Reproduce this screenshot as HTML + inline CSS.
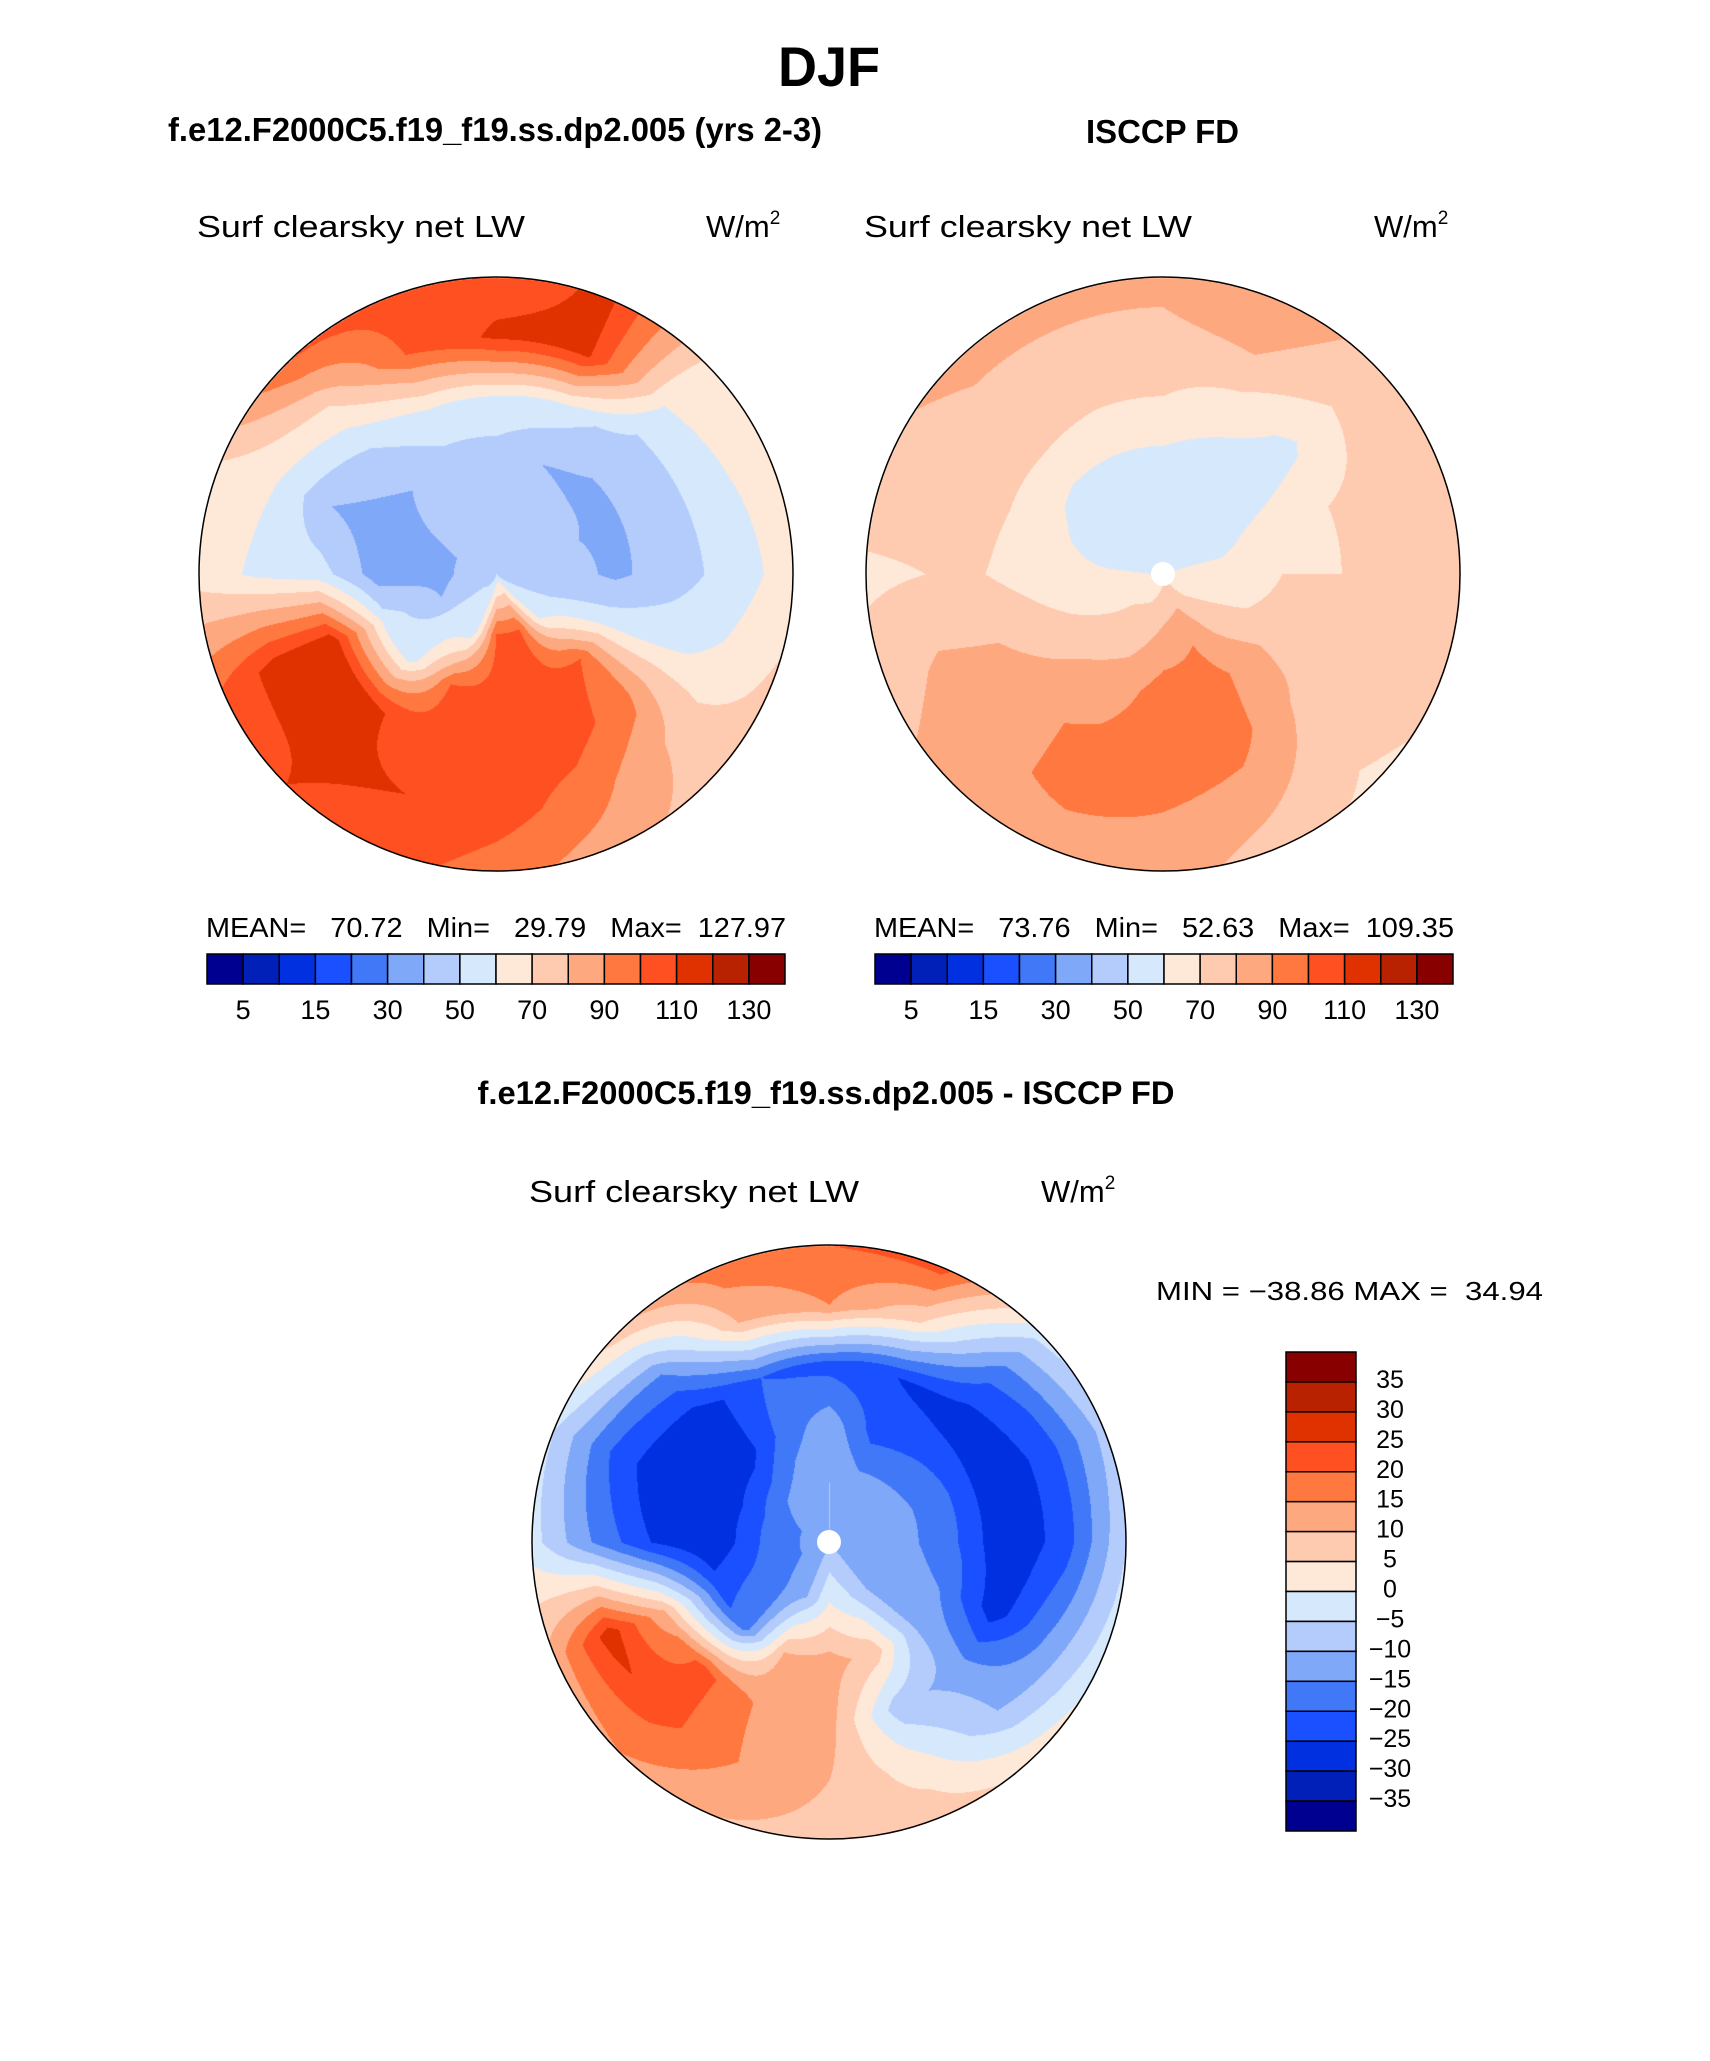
<!DOCTYPE html>
<html><head><meta charset="utf-8">
<style>
html,body{margin:0;padding:0;background:#fff;}
#wrap{position:relative;width:1710px;height:2061px;overflow:hidden;}
canvas,svg{position:absolute;left:0;top:0;}
text{font-family:"Liberation Sans",sans-serif;fill:#000;}
</style></head>
<body>
<div id="wrap">
<canvas id="cv" width="1710" height="2061"></canvas>
<svg id="sv" width="1710" height="2061" xmlns="http://www.w3.org/2000/svg">
  <text x="829" y="86" font-size="56" font-weight="bold" text-anchor="middle" textLength="102" lengthAdjust="spacingAndGlyphs">DJF</text>
  <text x="168" y="141" font-size="33" font-weight="bold" textLength="654" lengthAdjust="spacingAndGlyphs">f.e12.F2000C5.f19_f19.ss.dp2.005 (yrs 2-3)</text>
  <text x="1086" y="143" font-size="33" font-weight="bold" textLength="153" lengthAdjust="spacingAndGlyphs">ISCCP FD</text>

  <text x="197" y="237" font-size="31" textLength="328" lengthAdjust="spacingAndGlyphs">Surf clearsky net LW</text>
  <text x="706" y="237" font-size="31">W/m<tspan font-size="19" dy="-13">2</tspan></text>
  <text x="864" y="237" font-size="31" textLength="328" lengthAdjust="spacingAndGlyphs">Surf clearsky net LW</text>
  <text x="1374" y="237" font-size="31">W/m<tspan font-size="19" dy="-13">2</tspan></text>

  <text x="206" y="937" font-size="28" textLength="580" lengthAdjust="spacingAndGlyphs" xml:space="preserve">MEAN=   70.72   Min=   29.79   Max=  127.97</text>
  <text x="874" y="937" font-size="28" textLength="580" lengthAdjust="spacingAndGlyphs" xml:space="preserve">MEAN=   73.76   Min=   52.63   Max=  109.35</text>

  <text x="826" y="1104" font-size="32" font-weight="bold" text-anchor="middle" textLength="697" lengthAdjust="spacingAndGlyphs">f.e12.F2000C5.f19_f19.ss.dp2.005 - ISCCP FD</text>
  <text x="529" y="1202" font-size="31" textLength="330" lengthAdjust="spacingAndGlyphs">Surf clearsky net LW</text>
  <text x="1041" y="1202" font-size="31">W/m<tspan font-size="19" dy="-13">2</tspan></text>
  <text x="1156" y="1300" font-size="26" textLength="387" lengthAdjust="spacingAndGlyphs" xml:space="preserve">MIN = −38.86 MAX =  34.94</text>
  <g id="overlay"></g>
</svg>
</div>
<script>
const colors=['#000090','#0020b8','#0030e0','#1a50ff','#4078f8','#80a8f8','#b4ccfc','#d6e8fc','#fee8d8','#fecab0','#fea880','#fe7840','#fe5020','#e03200','#b82200','#880000'];
const absLevels=[5,10,15,20,30,40,50,60,70,80,90,100,110,120,130];
const absTickLabels=['5','15','30','50','70','90','110','130'];
const diffLevels=[-35,-30,-25,-20,-15,-10,-5,0,5,10,15,20,25,30,35];
const diffTickLabels=['35','30','25','20','15','10','5','0','−5','−10','−15','−20','−25','−30','−35'];
// ring radii fractions: 0,0.2,0.4,0.6,0.8,1.0 ; 16 sectors clockwise from top
const modelField=[
[45,45,45,60,112,105],[45,45,40,55,112,112],[45,45,38,45,60,68],[45,42,38,45,58,66],
[45,45,38,45,55,65],[48,50,55,58,62,72],[50,58,100,95,80,76],[55,100,105,105,95,85],
[52,100,105,105,105,95],[50,52,100,105,110,105],[48,55,55,112,112,110],[45,40,55,118,115,100],
[45,38,35,55,58,65],[45,38,35,40,60,70],[45,45,40,50,70,100],[45,45,45,60,100,105]];
const obsField=[
[55,55,58,70,78,82],[55,55,55,65,80,90],[55,55,55,58,70,75],[60,58,65,70,75,80],
[62,65,70,70,75,80],[65,68,72,75,75,72],[65,75,85,80,74,68],[68,88,95,95,85,75],
[68,82,95,98,90,85],[65,75,85,92,92,85],[65,72,80,88,88,85],[62,65,72,80,82,75],
[60,62,65,70,70,68],[58,55,62,72,75,78],[56,55,58,72,78,82],[55,55,58,70,78,82]];
const diffField=[
[-10,-10,-12,-22,15,20],[-10,-12,-22,-25,5,22],[-10,-12,-20,-28,-18,-3],[-10,-12,-18,-30,-22,-8],
[-10,-12,-18,-30,-22,-5],[-10,-12,-15,-28,-15,-2],[-10,-12,-10,-12,-10,3],[-10,-5,8,-8,2,8],
[-10,0,12,12,10,8],[-10,-10,10,14,15,10],[-12,-15,-18,22,22,15],[-12,-18,-22,10,28,12],
[-12,-18,-30,-25,-15,-3],[-12,-18,-30,-30,-20,-5],[-10,-15,-28,-28,-15,8],[-10,-12,-18,-20,10,18]];

const NS='http://www.w3.org/2000/svg';
const ctx=document.getElementById('cv').getContext('2d');
const ov=document.getElementById('overlay');
function hex(c){return [parseInt(c.substr(1,2),16),parseInt(c.substr(3,2),16),parseInt(c.substr(5,2),16)];}
const rgb=colors.map(hex);
function levelIndex(v,levels){let i=0;while(i<levels.length&&v>=levels[i])i++;return i;}
function sample(field,rf,ang){
  const ns=field.length, nr=field[0].length-1;
  const s=ang/(2*Math.PI)*ns; const s0=Math.floor(s)%ns, s1=(s0+1)%ns, ts=s-Math.floor(s);
  const r=Math.min(rf,1)*nr; const r0=Math.min(Math.floor(r),nr-1), tr=r-r0;
  const a=field[s0][r0]*(1-tr)+field[s0][r0+1]*tr;
  const b=field[s1][r0]*(1-tr)+field[s1][r0+1]*tr;
  return a*(1-ts)+b*ts;
}
function drawMap(cx,cy,R,field,levels,name,poleHole){
  const img=ctx.createImageData(2*R+2,2*R+2);
  for(let y=0;y<2*R+2;y++)for(let x=0;x<2*R+2;x++){
    const dx=x-R-1, dy=y-R-1; const d=Math.sqrt(dx*dx+dy*dy); if(d>R)continue;
    let ang=Math.atan2(dx,-dy); if(ang<0)ang+=2*Math.PI;
    const v=sample(field,d/R,ang); const c=rgb[levelIndex(v,levels)];
    const k=(y*(2*R+2)+x)*4; img.data[k]=c[0];img.data[k+1]=c[1];img.data[k+2]=c[2];img.data[k+3]=255;
  }
  ctx.putImageData(img,cx-R-1,cy-R-1);
  const circ=document.createElementNS(NS,'circle');
  circ.setAttribute('cx',cx);circ.setAttribute('cy',cy);circ.setAttribute('r',R);
  circ.setAttribute('fill','none');circ.setAttribute('stroke','#000');circ.setAttribute('stroke-width','1.5');
  
  
  ov.appendChild(circ);
  if(poleHole){
    const p=document.createElementNS(NS,'circle');
    p.setAttribute('cx',cx);p.setAttribute('cy',cy);p.setAttribute('r',12);p.setAttribute('fill','#fff');
    
    
    ov.appendChild(p);
  }
}
drawMap(496,574,297,modelField,absLevels,'model-polar-map',false);
drawMap(1163,574,297,obsField,absLevels,'isccp-polar-map',true);
drawMap(829,1542,297,diffField,diffLevels,'difference-polar-map',true);

function hBar(x0,y0,w,h,name,labelY){
  const bw=w/colors.length;
  colors.forEach((c,i)=>{
    const r=document.createElementNS(NS,'rect');
    r.setAttribute('x',x0+i*bw);r.setAttribute('y',y0);r.setAttribute('width',bw);r.setAttribute('height',h);
    r.setAttribute('fill',c);r.setAttribute('stroke','#000');r.setAttribute('stroke-width','1.5');
    
    
    ov.appendChild(r);
  });
  absTickLabels.forEach((t,j)=>{
    const tx=document.createElementNS(NS,'text');
    tx.setAttribute('x',x0+(2*j+1)*bw);tx.setAttribute('y',labelY);tx.setAttribute('font-size','27');
    tx.setAttribute('text-anchor','middle');tx.textContent=t;
    
    
    ov.appendChild(tx);
  });
}
hBar(207,954,578,30,'left-colorbar',1019);
hBar(875,954,578,30,'right-colorbar',1019);

(function(){
  const x0=1286,y0=1352,w=70,h=479,bh=h/colors.length;
  colors.slice().reverse().forEach((c,i)=>{
    const r=document.createElementNS(NS,'rect');
    r.setAttribute('x',x0);r.setAttribute('y',y0+i*bh);r.setAttribute('width',w);r.setAttribute('height',bh);
    r.setAttribute('fill',c);r.setAttribute('stroke','#000');r.setAttribute('stroke-width','1.5');
    
    
    ov.appendChild(r);
  });
  diffTickLabels.forEach((t,j)=>{
    const tx=document.createElementNS(NS,'text');
    tx.setAttribute('x',1390);tx.setAttribute('y',y0+(j+1)*bh+6);tx.setAttribute('font-size','25');
    tx.setAttribute('text-anchor','middle');tx.textContent=t;
    
    
    ov.appendChild(tx);
  });
})();
</script>
</body></html>
